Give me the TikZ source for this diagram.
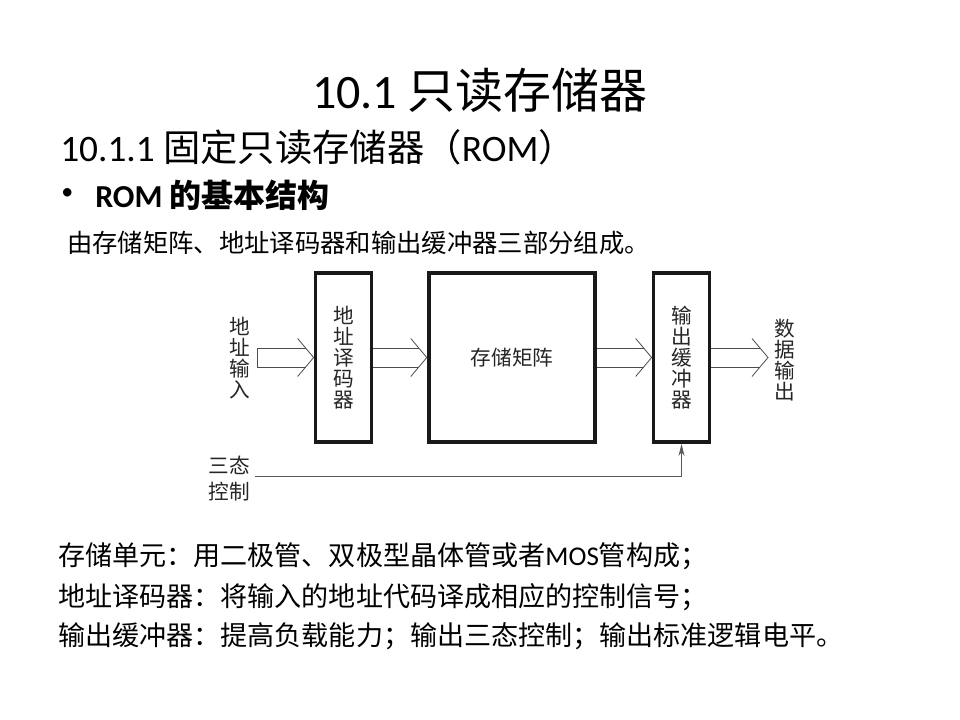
\documentclass[tikz,border=0pt]{standalone}
\usepackage{fontspec}
\usetikzlibrary{calc,arrows.meta}
\setmainfont{Carlito}
\newfontfamily\cjk{Noto Sans CJK SC}
\newcommand\zh[1]{{\cjk #1}}
% hollow bus arrow from #1 to the tip #2
\newcommand\busarrow[2]{%
  \draw[bus] ($(#1)+(0,-9.5)$) -- ($(#2)+(-8,-9.5)$);
  \draw[bus] ($(#1)+(0,9.5)$) -- ($(#2)+(-8,9.5)$);
  \draw[bus] ($(#2)+(-16,-19)$) -- (#2) -- ($(#2)+(-16,19)$);}

\begin{document}
\begin{tikzpicture}[x=0.75pt,y=-0.75pt,
    blk/.style={draw=black!90,line width=2.8pt,inner sep=0pt,align=center,
      font=\cjk\fontsize{15.5}{15.75}\selectfont,text=black!85,minimum height=127pt},
    lbl/.style={font=\cjk\fontsize{15.5}{15.75}\selectfont,align=center,text=black!85},
    bus/.style={draw=black!70,line width=0.6pt},
    ctrlline/.style={draw=black!65,line width=0.6pt},
    txt/.style={anchor=west,inner sep=0pt,font=\fontsize{20.3}{24}\selectfont}]
  \useasboundingbox[fill=white] (0,0) rectangle (960,720);

  % headings
  \node[inner sep=0pt,font=\fontsize{36}{40}\selectfont] (title) at (480,90) {10.1 \zh{只读存储器}};
  \node[txt,font=\fontsize{28}{32}\selectfont] (sub) at (60,147) {10.1.1 \zh{固定只读存储器（}ROM\zh{）}};
  \node[txt,font=\fontsize{18}{20}\selectfont] (dot) at (61,194) {\textbullet};
  \node[txt,font=\bfseries\fontsize{24}{28}\selectfont] (head) at (95,195) {ROM \zh{的基本结构}};
  \node[txt,font=\cjk\fontsize{19}{22}\selectfont] (intro) at (67,243) {由存储矩阵、地址译码器和输出缓冲器三部分组成。};

  % blocks
  \node[blk,minimum width=42pt] (dec) at (343.5,357.5) {地\\址\\译\\码\\器};
  \node[blk,minimum width=125pt] (mat) at (512,357.5) {存储矩阵};
  \node[blk,minimum width=42pt] (buf) at (681.5,357.5) {输\\出\\缓\\冲\\器};

  \node[lbl] (addr) at (240,358) {地\\址\\输\\入};
  \node[lbl] (data) at (785,360) {数\\据\\输\\出};
  \node[lbl,font=\cjk\fontsize{15.5}{19.5}\selectfont] (tri) at (229,479) {三态\\控制};

  \coordinate (in) at (257,357.5);
  \coordinate (out) at (768,357.5);
  \coordinate (ctl) at (255,476);

  \draw[bus] ($(in)+(0,-9.5)$) -- ($(in)+(0,9.5)$);
  \busarrow{in}{dec.west}
  \busarrow{dec.east}{mat.west}
  \busarrow{mat.east}{buf.west}
  \busarrow{buf.east}{out}

  \draw[ctrlline,-{Stealth[length=9pt,width=4.5pt]}] (ctl) -| (buf.south);

  % notes
  \node[txt] (n1) at (58,556) {\zh{存储单元：用二极管、双极型晶体管或者}MOS\zh{管构成；}};
  \node[txt] (n2) at (58,597) {\zh{地址译码器：将输入的地址代码译成相应的控制信号；}};
  \node[txt] (n3) at (58,636) {\zh{输出缓冲器：提高负载能力；输出三态控制；输出标准逻辑电平。}};
\end{tikzpicture}
\end{document}
